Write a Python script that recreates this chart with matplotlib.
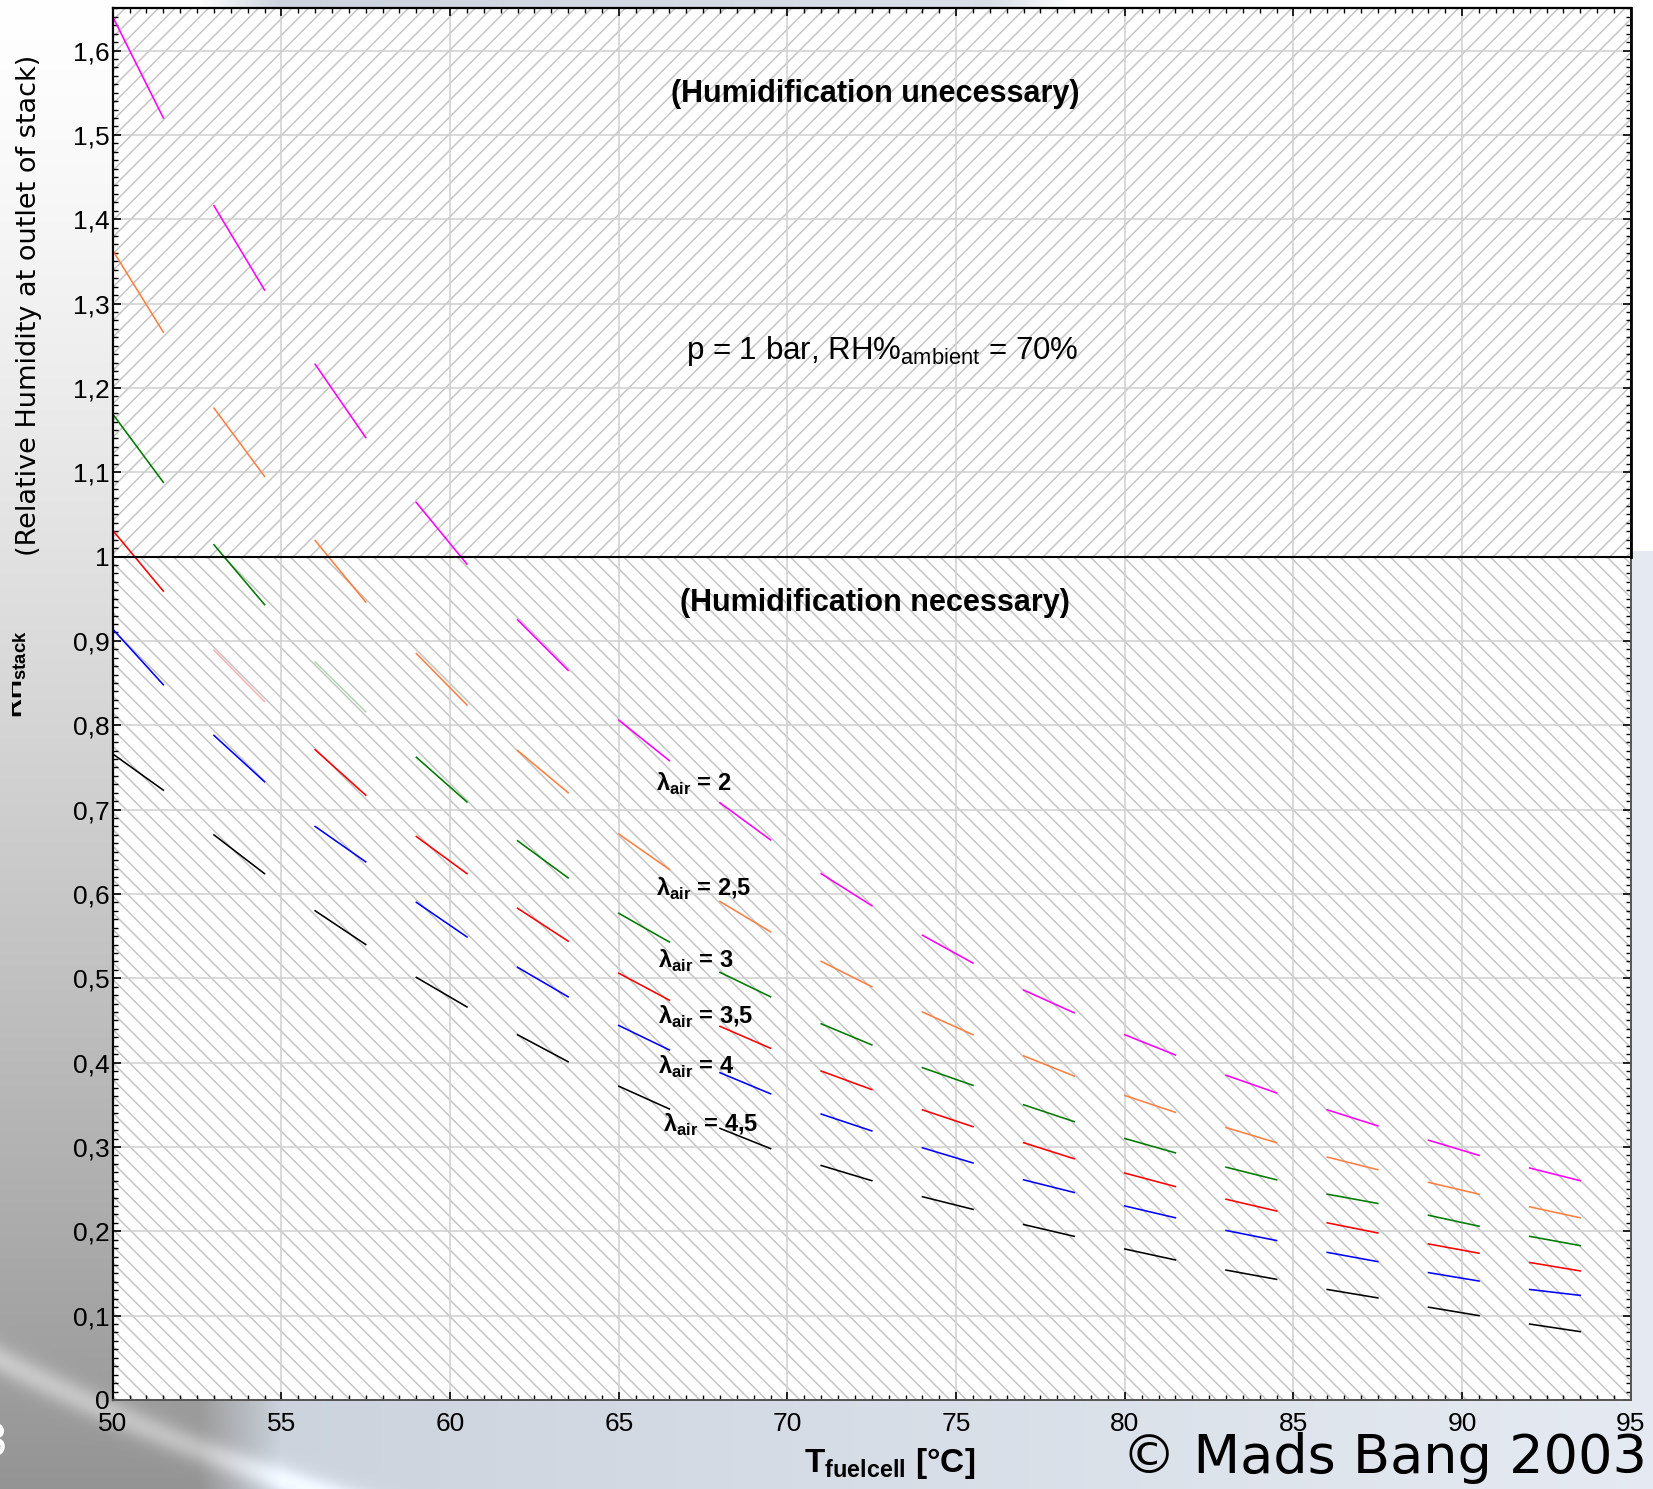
import numpy as np
import matplotlib
matplotlib.use("Agg")
import matplotlib.pyplot as plt
from matplotlib.ticker import MultipleLocator, FuncFormatter
from matplotlib.transforms import Bbox

plt.rcParams['font.family'] = ['Liberation Sans', 'DejaVu Sans']
plt.rcParams['mathtext.fontset'] = 'custom'
plt.rcParams['mathtext.rm'] = 'Liberation Sans'
plt.rcParams['mathtext.bf'] = 'Liberation Sans:bold'
plt.rcParams['hatch.linewidth'] = 1.1

# Start of each drawn piece of the curves (T in degC), each piece is 1.5 degC long
t_start = [50, 53, 56, 59, 62, 65, 68, 71, 74, 77, 80, 83, 86, 89, 92]
piece_len = 1.5

# RH at stack outlet at start (a) and end (b) of each piece
rh_l2_a = [1.640, 1.416, 1.228, 1.064, 0.925, 0.806, 0.708, 0.624, 0.551, 0.486, 0.433, 0.385, 0.344, 0.308, 0.275]
rh_l2_b = [1.520, 1.316, 1.141, 0.991, 0.865, 0.758, 0.664, 0.586, 0.518, 0.459, 0.409, 0.364, 0.325, 0.290, 0.260]
rh_l25_a = [1.363, 1.176, 1.019, 0.885, 0.770, 0.671, 0.591, 0.520, 0.460, 0.408, 0.361, 0.323, 0.288, 0.258, 0.229]
rh_l25_b = [1.266, 1.095, 0.946, 0.824, 0.720, 0.629, 0.555, 0.490, 0.433, 0.384, 0.341, 0.305, 0.273, 0.244, 0.216]
rh_l3_a = [1.169, 1.014, 0.875, 0.762, 0.663, 0.577, 0.507, 0.446, 0.394, 0.350, 0.310, 0.276, 0.244, 0.219, 0.194]
rh_l3_b = [1.088, 0.943, 0.816, 0.709, 0.619, 0.543, 0.478, 0.421, 0.373, 0.330, 0.293, 0.261, 0.233, 0.206, 0.183]
rh_l35_a = [1.031, 0.889, 0.771, 0.668, 0.583, 0.506, 0.443, 0.390, 0.344, 0.305, 0.269, 0.238, 0.210, 0.185, 0.163]
rh_l35_b = [0.959, 0.828, 0.717, 0.624, 0.544, 0.474, 0.417, 0.368, 0.324, 0.286, 0.253, 0.224, 0.198, 0.174, 0.153]
rh_l4_a = [0.914, 0.788, 0.680, 0.590, 0.513, 0.444, 0.388, 0.339, 0.299, 0.261, 0.230, 0.201, 0.175, 0.151, 0.131]
rh_l4_b = [0.848, 0.733, 0.638, 0.549, 0.478, 0.415, 0.363, 0.319, 0.281, 0.246, 0.216, 0.189, 0.164, 0.141, 0.124]
rh_l45_a = [0.766, 0.670, 0.580, 0.501, 0.433, 0.372, 0.322, 0.278, 0.241, 0.208, 0.179, 0.154, 0.131, 0.110, 0.090]
rh_l45_b = [0.723, 0.624, 0.540, 0.466, 0.401, 0.345, 0.298, 0.260, 0.226, 0.194, 0.166, 0.143, 0.121, 0.100, 0.081]

lam_names = ['2', '2,5', '3', '3,5', '4', '4,5']
lam_colors = ['#ff00ff', '#ff7f40', '#007a00', '#ff0000', '#0000ff', '#000000']
rh_a = [rh_l2_a, rh_l25_a, rh_l3_a, rh_l35_a, rh_l4_a, rh_l45_a]
rh_b = [rh_l2_b, rh_l25_b, rh_l3_b, rh_l35_b, rh_l4_b, rh_l45_b]
# pieces that come out pale in the print (series index, piece index)
pale = [(3, 1), (2, 2)]
# label anchor per lambda (T, RH)
lab_t = [66.1, 66.1, 66.15, 66.15, 66.15, 66.3]
lab_rh = [0.731, 0.606, 0.520, 0.454, 0.395, 0.326]

W, H = 1653, 1489
fig = plt.figure(figsize=(W / 100, H / 100), dpi=100)

# slide background behind the chart
yy, xx = np.mgrid[0:H, 0:W]
t = yy / H
s = xx / W
grey = 1 - 0.42 * t ** 1.3
blue = np.stack([0.78 + 0.12 * s, 0.81 + 0.11 * s, 0.85 + 0.10 * s], axis=-1)
wb = np.clip((s - 0.12) / 0.05, 0, 1)[..., None]
bg = grey[..., None] * (1 - wb) + blue * wb
right_col = np.where(t[..., None] < 0.37, 1.0, np.array([0.90, 0.92, 0.95]))
wr = np.clip((s - 0.6) / 0.05, 0, 1)[..., None] * (t[..., None] < 0.93)
bg = bg * (1 - wr) + right_col * wr
r = np.hypot(xx - 1000, yy + 600)
band = np.exp(-((r - 2200) / 14.0) ** 2) * (s < 0.35)
bg = np.clip(bg + 0.16 * band[..., None], 0, 1)
bax = fig.add_axes([0, 0, 1, 1], zorder=-5)
bax.imshow(bg, aspect='auto', extent=[0, 1, 0, 1])
bax.axis('off')

ax = fig.add_axes([0.0682, 0.0598, 0.9184, 0.9346])
ax.set_xlim(50, 95)
ax.set_ylim(0, 1.65)

# hatched regions above and below RH = 1
ax.axhspan(1, 1.65, facecolor='white', edgecolor='#c6c6c6', hatch='//', lw=0, zorder=0.2)
ax.axhspan(0, 1, facecolor='white', edgecolor='#c6c6c6', hatch='\\\\', lw=0, zorder=0.2)
ax.axhline(1, color='black', lw=1.5, zorder=3)
ax.plot([95, 95], [1, 1.65], color='black', lw=2, clip_on=False, zorder=5)

ax.set_axisbelow(True)
ax.grid(True, which='major', color='#cfcfcf', lw=1.1)

for k in range(len(lam_names)):
    for i, t0 in enumerate(t_start):
        alpha = 0.3 if (k, i) in pale else 1.0
        ax.plot([t0, t0 + piece_len], [rh_a[k][i], rh_b[k][i]], color=lam_colors[k],
                lw=1.15, alpha=alpha, zorder=2)
    ax.text(lab_t[k], lab_rh[k], 'λ$_{\\mathbf{air}}$ = ' + lam_names[k], fontsize=17,
            fontweight='bold', ha='left', va='center', zorder=4)

ax.text(72.6, 1.549, '(Humidification unecessary)', fontsize=22, fontweight='bold',
        ha='center', va='center')
ax.text(72.6, 0.945, '(Humidification necessary)', fontsize=22, fontweight='bold',
        ha='center', va='center')
ax.text(72.8, 1.244, 'p = 1 bar, RH%$_{\\mathrm{ambient}}$ = 70%', fontsize=22.5,
        ha='center', va='center')

# ticks
ax.xaxis.set_major_locator(MultipleLocator(5))
ax.xaxis.set_minor_locator(MultipleLocator(0.5))
ax.yaxis.set_major_locator(MultipleLocator(0.1))
ax.yaxis.set_minor_locator(MultipleLocator(0.01))
ax.yaxis.set_major_formatter(FuncFormatter(lambda v, p: ('%g' % round(v, 2)).replace('.', ',')))
ax.tick_params(which='both', direction='in', top=True, right=True, labelsize=19)
ax.tick_params(which='major', length=6, width=1.2)
ax.tick_params(which='minor', length=3.5, width=1)
ax.tick_params(axis='x', pad=9)
ax.tick_params(axis='y', pad=2)
for side in ['left', 'top']:
    ax.spines[side].set_color('black')
    ax.spines[side].set_linewidth(1.6)
for side in ['bottom', 'right']:
    ax.spines[side].set_color('#555555')
    ax.spines[side].set_linewidth(1.4)

ax.set_xlabel('T$_{\\mathbf{fuelcell}}$ [°C]', fontsize=24, fontweight='bold')
ax.xaxis.set_label_coords(0.512, -0.033)

fig.text(0.0178, 0.795, '(Relative Humidity at outlet of stack)', fontsize=19.5,
         family='DejaVu Sans', rotation=90, ha='center', va='center')
rh_txt = fig.text(0.0015, 0.547, 'RH$_{\\mathbf{stack}}$', fontsize=19, fontweight='bold',
                  rotation=90, ha='left', va='center')
rh_txt.set_clip_box(Bbox.from_extents(12, 0, 60, H))
rh_txt.set_clip_on(True)

fig.text(-0.004, 0.030, '3', fontsize=32, color='white', family='DejaVu Sans',
         ha='center', va='center')
fig.text(0.9965, 0.011, '© Mads Bang 2003', fontsize=39, family='DejaVu Sans',
         ha='right', va='baseline')

fig.savefig('out.png', dpi=100)
